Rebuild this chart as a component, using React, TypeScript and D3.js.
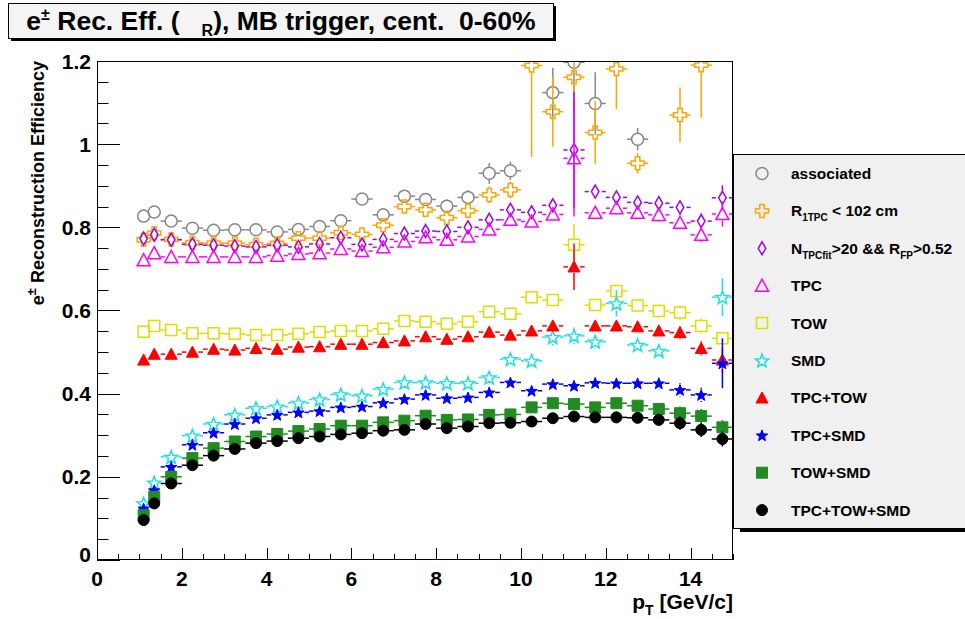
import React from 'react';
import * as d3 from 'd3';

// ---------- data ----------
const pt = [1.1, 1.35, 1.75, 2.25, 2.75, 3.25, 3.75, 4.25, 4.75, 5.25, 5.75, 6.25, 6.75, 7.25, 7.75, 8.25, 8.75, 9.25, 9.75, 10.25, 10.75, 11.25, 11.75, 12.25, 12.75, 13.25, 13.75, 14.25, 14.75];
const ptErr = [0.125, 0.125, 0.25, 0.25, 0.25, 0.25, 0.25, 0.25, 0.25, 0.25, 0.25, 0.25, 0.25, 0.25, 0.25, 0.25, 0.25, 0.25, 0.25, 0.25, 0.25, 0.25, 0.25, 0.25, 0.25, 0.25, 0.25, 0.25, 0.25];

const associated = [0.827, 0.837, 0.815, 0.798, 0.793, 0.794, 0.794, 0.789, 0.795, 0.802, 0.816, 0.868, 0.830, 0.875, 0.867, 0.851, 0.872, 0.930, 0.936, null, 1.124, 1.197, 1.098, null, 1.012, null, null, null, null];
const associatedErr = [0.006, 0.006, 0.006, 0.006, 0.006, 0.006, 0.007, 0.007, 0.008, 0.008, 0.009, 0.014, 0.012, 0.014, 0.015, 0.016, 0.018, 0.025, 0.022, 0, 0.06, 0.07, 0.075, 0, 0.027, 0, 0, 0, 0];

const r1tpc = [0.770, 0.786, 0.771, 0.763, 0.762, 0.762, 0.758, 0.761, 0.774, 0.774, 0.787, 0.783, 0.805, 0.850, 0.842, 0.823, 0.840, 0.878, 0.890, 1.189, 1.078, 1.161, 1.028, 1.181, 0.954, null, 1.070, 1.190, null];
const r1tpcErr = [0.006, 0.006, 0.006, 0.006, 0.006, 0.006, 0.007, 0.007, 0.008, 0.008, 0.009, 0.010, 0.012, 0.013, 0.014, 0.015, 0.017, 0.020, 0.020, 0.22, 0.084, 0.09, 0.075, 0.097, 0.025, 0, 0.066, 0.126, 0];

const nfit = [0.773, 0.782, 0.770, 0.759, 0.757, 0.755, 0.753, 0.757, 0.753, 0.760, 0.775, 0.759, 0.771, 0.785, 0.791, 0.790, 0.800, 0.818, 0.842, 0.836, 0.853, 0.986, 0.886, 0.872, 0.860, 0.858, 0.848, 0.815, 0.871];
const nfitErr = [0.005, 0.005, 0.005, 0.005, 0.005, 0.005, 0.005, 0.006, 0.006, 0.006, 0.007, 0.007, 0.008, 0.009, 0.009, 0.010, 0.010, 0.011, 0.012, 0.012, 0.013, 0.14, 0.014, 0.015, 0.015, 0.016, 0.017, 0.018, 0.03];

const tpc = [0.721, 0.738, 0.729, 0.729, 0.729, 0.729, 0.729, 0.732, 0.736, 0.738, 0.748, 0.743, 0.752, 0.766, 0.776, 0.770, 0.778, 0.795, 0.818, 0.814, 0.831, 0.966, 0.835, 0.846, 0.835, 0.830, 0.811, 0.782, 0.832];
const tpcErr = [0.005, 0.005, 0.005, 0.005, 0.005, 0.005, 0.005, 0.006, 0.006, 0.006, 0.007, 0.007, 0.008, 0.009, 0.009, 0.010, 0.010, 0.011, 0.012, 0.012, 0.013, 0.14, 0.014, 0.015, 0.015, 0.016, 0.017, 0.018, 0.03];

const tow = [0.549, 0.563, 0.553, 0.545, 0.545, 0.544, 0.541, 0.541, 0.544, 0.548, 0.551, 0.551, 0.556, 0.575, 0.573, 0.568, 0.573, 0.597, 0.592, 0.632, 0.625, 0.758, 0.613, 0.647, 0.612, 0.599, 0.595, 0.563, 0.533];
const towErr = [0.005, 0.005, 0.005, 0.005, 0.005, 0.005, 0.005, 0.006, 0.006, 0.006, 0.007, 0.007, 0.008, 0.009, 0.009, 0.010, 0.010, 0.011, 0.012, 0.012, 0.013, 0.05, 0.014, 0.015, 0.015, 0.016, 0.017, 0.018, 0.015];

const smd = [0.136, 0.186, 0.248, 0.299, 0.327, 0.349, 0.365, 0.369, 0.378, 0.386, 0.398, 0.395, 0.411, 0.427, 0.427, 0.425, 0.425, 0.439, 0.483, 0.479, 0.536, 0.539, 0.525, 0.617, 0.517, 0.503, null, null, 0.632];
const smdErr = [0.005, 0.005, 0.005, 0.005, 0.005, 0.005, 0.005, 0.006, 0.006, 0.006, 0.007, 0.007, 0.008, 0.009, 0.009, 0.010, 0.010, 0.011, 0.012, 0.012, 0.02, 0.02, 0.014, 0.032, 0.015, 0.016, 0, 0, 0.045];

const tpcTow = [0.481, 0.495, 0.495, 0.500, 0.507, 0.505, 0.509, 0.507, 0.512, 0.513, 0.519, 0.519, 0.523, 0.527, 0.537, 0.531, 0.537, 0.548, 0.541, 0.551, 0.563, 0.705, 0.563, 0.563, 0.561, 0.551, 0.547, 0.509, 0.481];
const tpcTowErr = [0.004, 0.004, 0.004, 0.004, 0.004, 0.004, 0.004, 0.005, 0.005, 0.005, 0.006, 0.006, 0.007, 0.008, 0.008, 0.009, 0.009, 0.010, 0.011, 0.011, 0.012, 0.056, 0.013, 0.014, 0.014, 0.015, 0.016, 0.017, 0.03];

const tpcSmd = [0.124, 0.168, 0.224, 0.277, 0.306, 0.327, 0.341, 0.349, 0.355, 0.358, 0.367, 0.369, 0.378, 0.387, 0.397, 0.389, 0.391, 0.403, 0.427, 0.407, 0.423, 0.419, 0.426, 0.425, 0.425, 0.425, 0.409, 0.397, 0.473];
const tpcSmdErr = [0.004, 0.004, 0.004, 0.004, 0.004, 0.004, 0.004, 0.005, 0.005, 0.005, 0.006, 0.006, 0.007, 0.008, 0.008, 0.009, 0.009, 0.010, 0.011, 0.011, 0.012, 0.012, 0.013, 0.014, 0.014, 0.015, 0.016, 0.017, 0.06];

const towSmd = [0.108, 0.152, 0.200, 0.245, 0.269, 0.285, 0.297, 0.303, 0.310, 0.315, 0.323, 0.323, 0.331, 0.335, 0.347, 0.337, 0.338, 0.349, 0.350, 0.367, 0.377, 0.375, 0.367, 0.377, 0.371, 0.363, 0.353, 0.346, 0.319];
const towSmdErr = [0.004, 0.004, 0.004, 0.004, 0.004, 0.004, 0.004, 0.005, 0.005, 0.005, 0.006, 0.006, 0.007, 0.008, 0.008, 0.009, 0.009, 0.010, 0.011, 0.011, 0.012, 0.012, 0.013, 0.014, 0.014, 0.015, 0.016, 0.017, 0.018];

const all3 = [0.096, 0.136, 0.184, 0.228, 0.251, 0.267, 0.281, 0.286, 0.293, 0.297, 0.302, 0.305, 0.311, 0.313, 0.327, 0.317, 0.321, 0.329, 0.330, 0.333, 0.341, 0.345, 0.343, 0.343, 0.342, 0.337, 0.329, 0.313, 0.291];
const all3Err = [0.004, 0.004, 0.004, 0.004, 0.004, 0.004, 0.004, 0.005, 0.005, 0.005, 0.006, 0.006, 0.007, 0.008, 0.008, 0.009, 0.009, 0.010, 0.011, 0.011, 0.012, 0.012, 0.013, 0.014, 0.014, 0.015, 0.016, 0.017, 0.018];

const yTicks = [0, 0.2, 0.4, 0.6, 0.8, 1, 1.2];
const yTickLabels = ['0', '0.2', '0.4', '0.6', '0.8', '1', '1.2'];
const xTicks = [0, 2, 4, 6, 8, 10, 12, 14];
const xTickLabels = ['0', '2', '4', '6', '8', '10', '12', '14'];

type Marker = 'circle' | 'cross' | 'diamond' | 'triangle' | 'square' | 'star';
interface Series { key: string; values: (number | null)[]; errs: number[]; color: string; marker: Marker; filled: boolean; size: number; }

const series: Series[] = [
  { key: 'associated', values: associated, errs: associatedErr, color: '#878787', marker: 'circle', filled: false, size: 6 },
  { key: 'r1tpc', values: r1tpc, errs: r1tpcErr, color: '#ffa500', marker: 'cross', filled: false, size: 6.5 },
  { key: 'nfit', values: nfit, errs: nfitErr, color: '#a000f0', marker: 'diamond', filled: false, size: 6.5 },
  { key: 'tpc', values: tpc, errs: tpcErr, color: '#ff00ff', marker: 'triangle', filled: false, size: 6.5 },
  { key: 'tow', values: tow, errs: towErr, color: '#dede00', marker: 'square', filled: false, size: 5.5 },
  { key: 'smd', values: smd, errs: smdErr, color: '#1ee0e0', marker: 'star', filled: false, size: 7 },
  { key: 'tpcTow', values: tpcTow, errs: tpcTowErr, color: '#ff0000', marker: 'triangle', filled: true, size: 6 },
  { key: 'tpcSmd', values: tpcSmd, errs: tpcSmdErr, color: '#0000ff', marker: 'star', filled: true, size: 6 },
  { key: 'towSmd', values: towSmd, errs: towSmdErr, color: '#228b22', marker: 'square', filled: true, size: 5.5 },
  { key: 'all3', values: all3, errs: all3Err, color: '#000000', marker: 'circle', filled: true, size: 5.5 },
];

// ---------- layout ----------
const W = 965, H = 619;
const F = { l: 97, t: 61, r: 733, b: 560 };
const x = d3.scaleLinear().domain([0, 15]).range([F.l, F.r]);
const y = d3.scaleLinear().domain([0, 1.2]).range([F.b, F.t]);
const FONT = '"Liberation Sans", Arial, Helvetica, sans-serif';

function markerPath(m: Marker, s: number): string {
  switch (m) {
    case 'cross': {
      const a = s, w = s * 0.34;
      return `M${-w},${-a}L${w},${-a}L${w},${-w}L${a},${-w}L${a},${w}L${w},${w}L${w},${a}L${-w},${a}L${-w},${w}L${-a},${w}L${-a},${-w}L${-w},${-w}Z`;
    }
    case 'diamond':
      return `M0,${-s}L${s * 0.58},0L0,${s}L${-s * 0.58},0Z`;
    case 'triangle':
      return `M0,${-s}L${s},${s * 0.85}L${-s},${s * 0.85}Z`;
    case 'square':
      return `M${-s},${-s}L${s},${-s}L${s},${s}L${-s},${s}Z`;
    case 'star': {
      const pts: string[] = [];
      for (let i = 0; i < 10; i++) {
        const r = i % 2 === 0 ? s : s * 0.42;
        const ang = -Math.PI / 2 + (i * Math.PI) / 5;
        pts.push(`${(r * Math.cos(ang)).toFixed(2)},${(r * Math.sin(ang) + s * 0.1).toFixed(2)}`);
      }
      return 'M' + pts.join('L') + 'Z';
    }
    default:
      return '';
  }
}

function MarkerShape({ s, cx, cy }: { s: Series; cx: number; cy: number }) {
  const fill = s.filled ? s.color : 'none';
  if (s.marker === 'circle') {
    return <circle cx={cx} cy={cy} r={s.size} fill={fill} stroke={s.color} strokeWidth={s.filled ? 1 : 1.5} />;
  }
  return <path d={markerPath(s.marker, s.size)} transform={`translate(${cx},${cy})`} fill={fill} stroke={s.color} strokeWidth={s.filled ? 1 : 1.5} strokeLinejoin="miter" />;
}

function SeriesLayer({ s }: { s: Series }) {
  const gap = s.size;
  return (
    <g>
      {s.values.map((v, i) => {
        if (v === null) return null;
        const cx = x(pt[i]);
        const cy = y(v);
        const e = s.errs[i];
        const segs: [number, number, number, number][] = [];
        const xl = x(pt[i] - ptErr[i]);
        const xr = x(pt[i] + ptErr[i]);
        if (cx - gap > xl) segs.push([xl, cy, cx - gap, cy]);
        if (xr > cx + gap) segs.push([cx + gap, cy, xr, cy]);
        const yt = y(v + e);
        const yb = y(v - e);
        if (cy - gap > yt) segs.push([cx, yt, cx, cy - gap]);
        if (yb > cy + gap) segs.push([cx, cy + gap, cx, yb]);
        return (
          <g key={i}>
            {segs.map((sg, j) => (
              <line key={j} x1={sg[0]} y1={sg[1]} x2={sg[2]} y2={sg[3]} stroke={s.color} strokeWidth={1.5} />
            ))}
            {cy >= F.t - 0.5 ? <MarkerShape s={s} cx={cx} cy={cy} /> : null}
          </g>
        );
      })}
    </g>
  );
}

const legendLabels: React.ReactNode[] = [
  <tspan>associated</tspan>,
  <>R<tspan fontSize="10" dy="5">1TPC</tspan><tspan dy="-5"> &lt; 102 cm</tspan></>,
  <>N<tspan fontSize="10" dy="5">TPCfit</tspan><tspan dy="-5">&gt;20 &amp;&amp; R</tspan><tspan fontSize="10" dy="5">FP</tspan><tspan dy="-5">&gt;0.52</tspan></>,
  <tspan>TPC</tspan>,
  <tspan>TOW</tspan>,
  <tspan>SMD</tspan>,
  <tspan>TPC+TOW</tspan>,
  <tspan>TPC+SMD</tspan>,
  <tspan>TOW+SMD</tspan>,
  <tspan>TPC+TOW+SMD</tspan>,
];

export default function App() {
  const yMinor = d3.range(0, 1.2001, 0.05);
  const xMinor = d3.range(0, 15.001, 0.5);
  const legendY = d3.scalePoint<number>().domain(d3.range(series.length)).range([173.5, 510.1]);
  return (
    <svg width={W} height={H} style={{ position: 'absolute', left: 0, top: 0, background: '#fff' }} fontFamily={FONT}>
      <defs>
        <clipPath id="frameClip">
          <rect x={F.l} y={F.t} width={F.r - F.l} height={F.b - F.t} />
        </clipPath>
      </defs>
      <rect x={0} y={0} width={W} height={H} fill="#fff" />

      {/* data */}
      <g clipPath="url(#frameClip)">
        {series.map((s) => (
          <SeriesLayer key={s.key} s={s} />
        ))}
      </g>

      {/* frame */}
      <rect x={F.l + 0.5} y={F.t + 0.5} width={F.r - F.l - 1} height={F.b - F.t - 1} fill="none" stroke="#000" strokeWidth={1} />

      {/* y ticks */}
      {yMinor.map((v, i) => {
        const major = i % 4 === 0;
        const yy = Math.round(y(v)) + 0.5;
        return <line key={'ym' + i} x1={F.l} x2={F.l + (major ? 23 : 11.5)} y1={yy} y2={yy} stroke="#000" strokeWidth={1} />;
      })}
      {yTicks.map((v, i) => (
        <text key={'yl' + i} x={91} y={y(v) + (v === 0 ? -6 : 0)} dy="0.36em" textAnchor="end" fontSize={21} fontWeight="bold">
          {yTickLabels[i]}
        </text>
      ))}

      {/* x ticks */}
      {xMinor.map((v, i) => {
        const major = i % 4 === 0;
        const xx = Math.round(x(v)) + 0.5;
        return <line key={'xm' + i} x1={xx} x2={xx} y1={F.b} y2={F.b - (major ? 12 : 6)} stroke="#000" strokeWidth={1} />;
      })}
      {xTicks.map((v, i) => (
        <text key={'xl' + i} x={x(v)} y={586} textAnchor="middle" fontSize={21} fontWeight="bold">
          {xTickLabels[i]}
        </text>
      ))}

      {/* axis titles */}
      <text x={F.r} y={609} textAnchor="end" fontSize={21} fontWeight="bold">
        p<tspan fontSize={14} dy={6}>T</tspan>
        <tspan dy={-6}> [GeV/c]</tspan>
      </text>
      <text transform={`translate(44,${F.t}) rotate(-90)`} textAnchor="end" fontSize={18} fontWeight="bold">
        e<tspan fontSize={13} dy={-8}>±</tspan>
        <tspan dy={8}> Reconstruction Efficiency</tspan>
      </text>

      {/* title box */}
      <rect x={11} y={6} width={545} height={35} fill="#000" />
      <rect x={8.5} y={3.5} width={545} height={35} fill="#f4f4f4" stroke="#000" strokeWidth={1} />
      <text x={281} y={30} textAnchor="middle" fontSize={26.5} fontWeight="bold" style={{ whiteSpace: 'pre' }}>
        e<tspan fontSize={16} dy={-10}>±</tspan>
        <tspan dy={10}>{' Rec. Eff. (   '}</tspan>
        <tspan fontSize={16} dy={6}>R</tspan>
        <tspan dy={-6}>{'), MB trigger, cent.  0-60%'}</tspan>
      </text>

      {/* legend */}
      <rect x={740} y={158} width={240} height={374} fill="#000" />
      <rect x={733.5} y={154.5} width={245} height={374} fill="#f0f0f0" stroke="#000" strokeWidth={1} />
      {series.map((s, i) => {
        const ly = legendY(i) as number;
        return (
          <g key={'lg' + s.key}>
            <MarkerShape s={s} cx={762} cy={ly} />
            <text x={791} y={ly} dy="0.36em" fontSize={15.5} fontWeight="bold">
              {legendLabels[i]}
            </text>
          </g>
        );
      })}
    </svg>
  );
}
